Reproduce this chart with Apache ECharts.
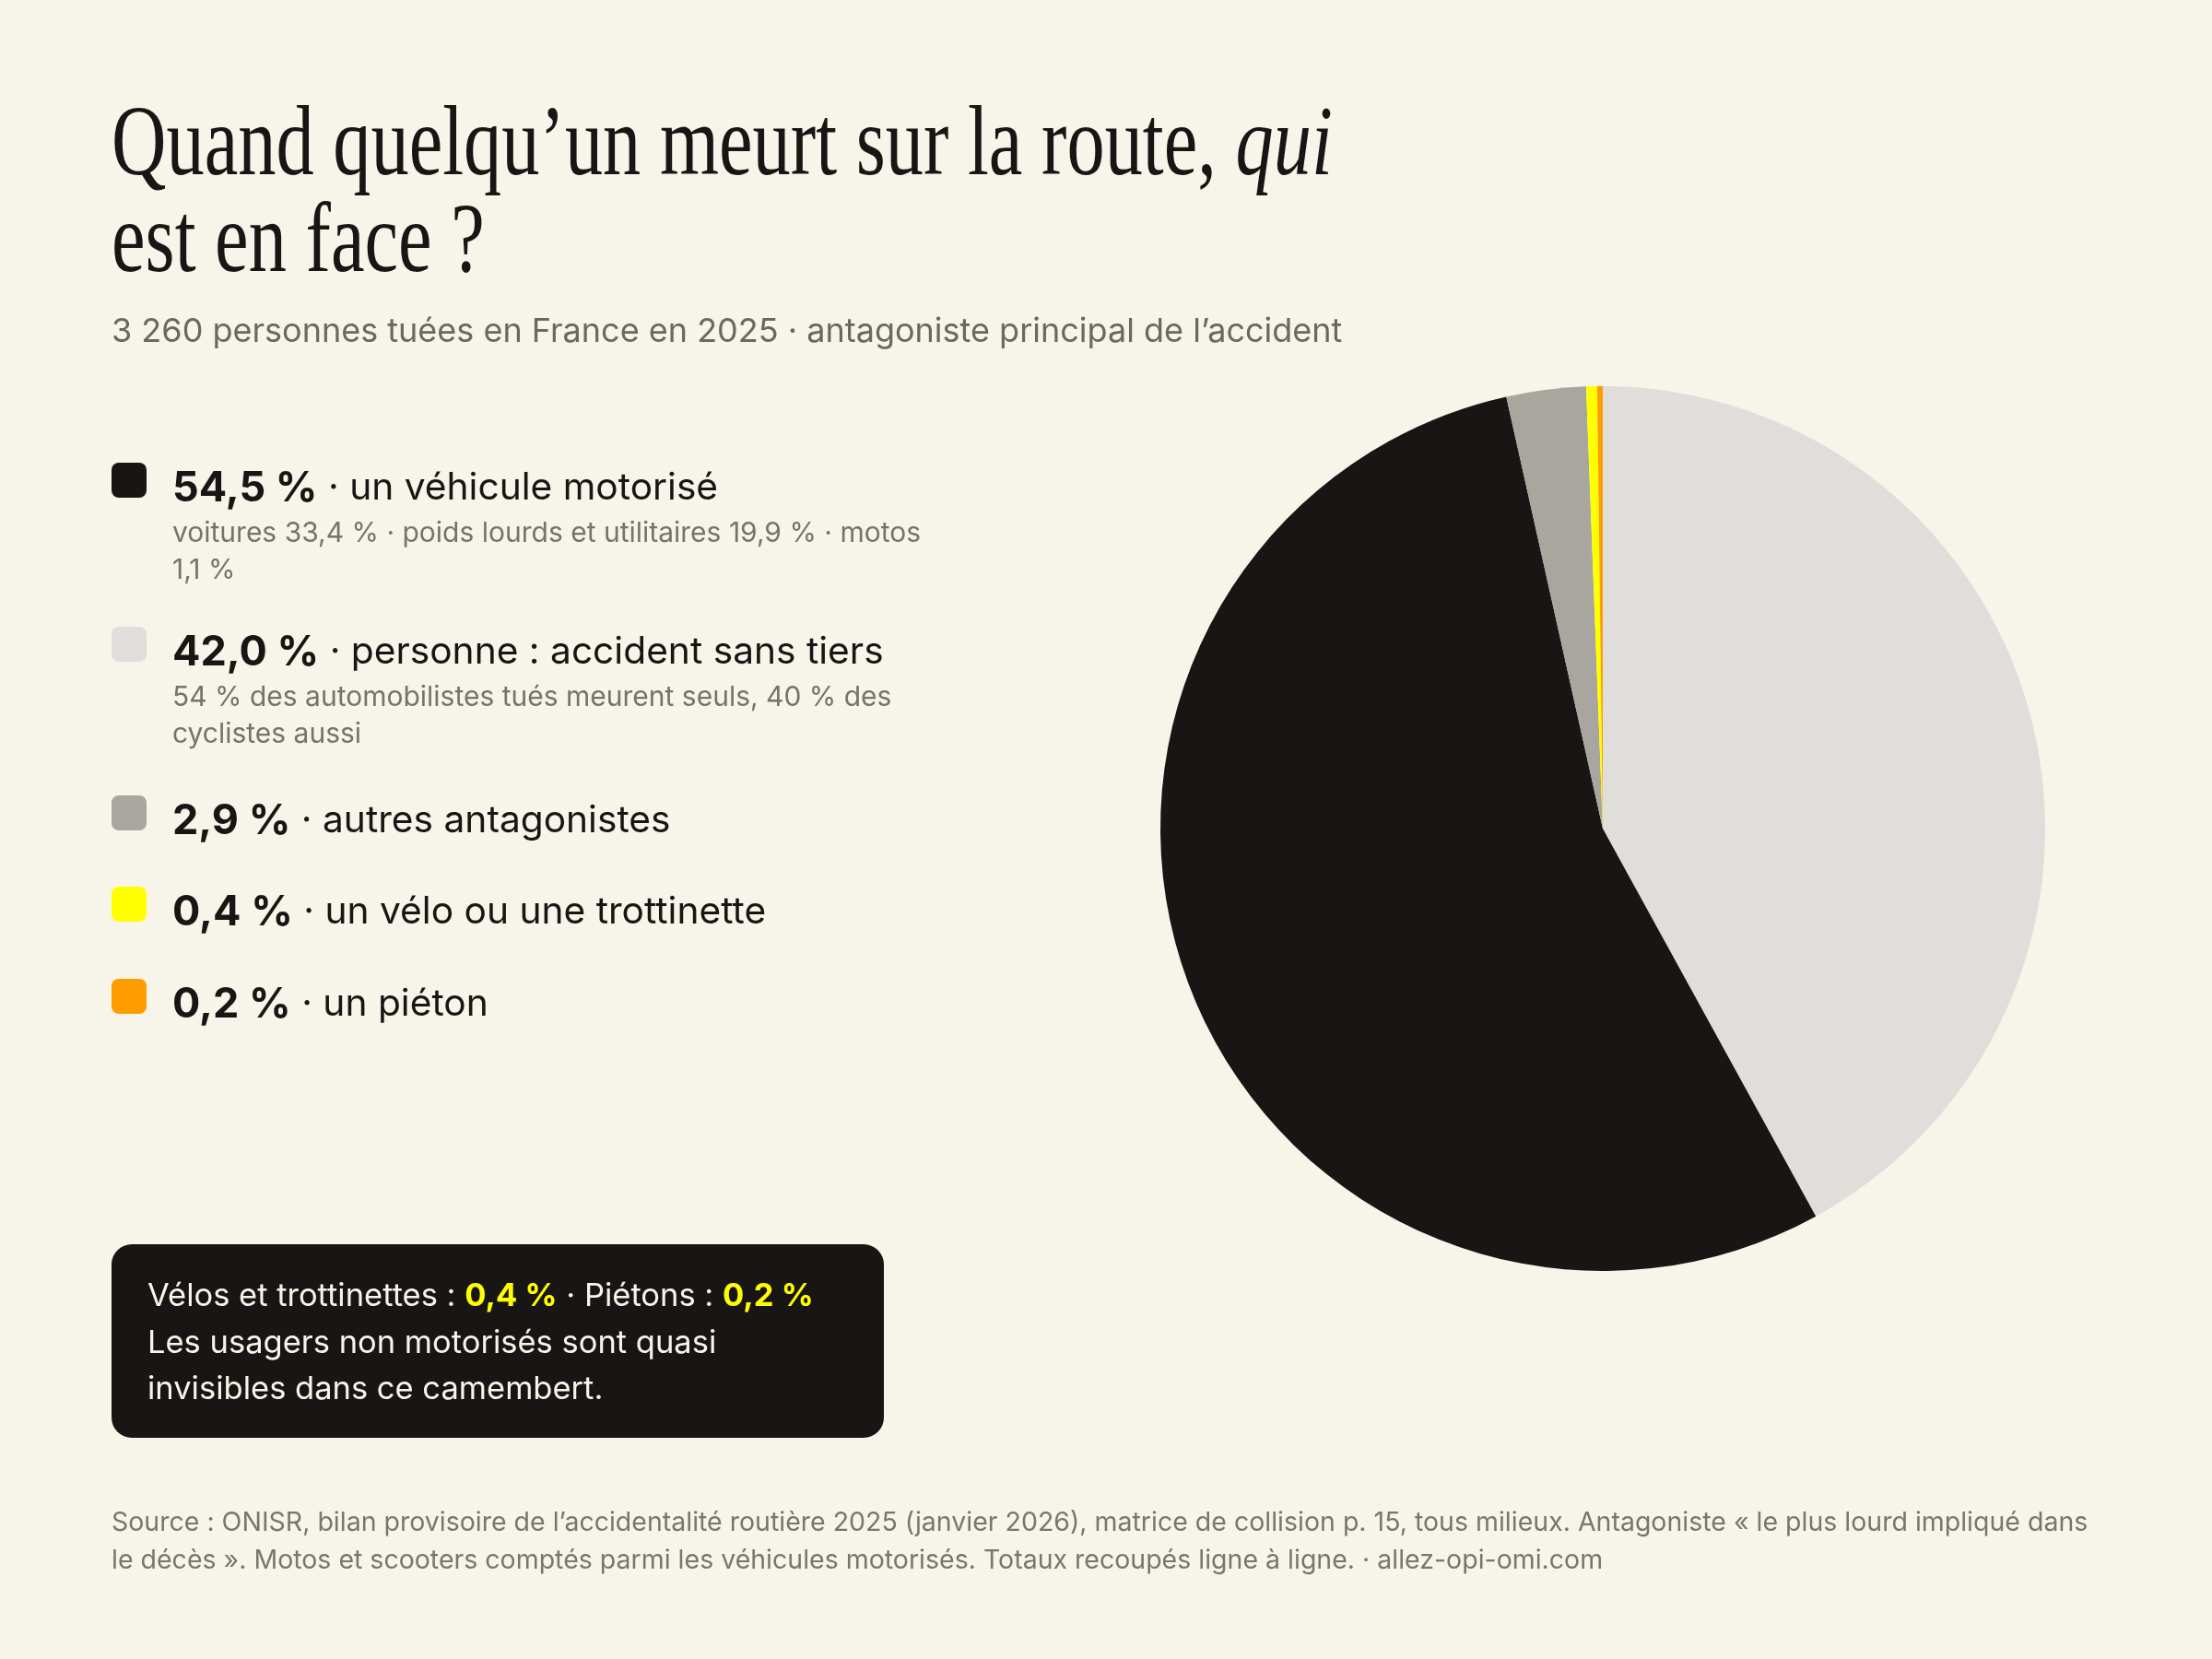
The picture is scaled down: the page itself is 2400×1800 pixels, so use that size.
<!DOCTYPE html>
<html>
<head>
<meta charset="utf-8">
<script src="https://cdn.jsdelivr.net/npm/echarts@6/dist/echarts.min.js"></script>
<style>
  html, body { margin: 0; padding: 0; background: #f7f4ea; }
  #chart { width: 2400px; height: 1800px; }
</style>
</head>
<body>
<div id="chart"></div>
<script>
// données
var categories = ['un véhicule motorisé', 'personne : accident sans tiers', 'autres antagonistes', 'un vélo ou une trottinette', 'un piéton'];
var values = [54.5, 42.0, 2.9, 0.4, 0.2];
var colors = ['#171614', '#dfdedb', '#a9a69f', '#ffff00', '#ff9c00'];
var details = [
  'voitures 33,4 % · poids lourds et utilitaires 19,9 % · motos\n1,1 %',
  '54 % des automobilistes tués meurent seuls, 40 % des\ncyclistes aussi',
  '', '', ''
];
// ordre de tracé dans le camembert (sens horaire depuis midi)
var pieOrder = [1, 0, 2, 3, 4];

var bg = '#f7f4ea';
var sans = 'Inter, "Noto Sans", sans-serif';

function fmt(v) {
  return v.toFixed(1).replace('.', ',') + ' %';
}

var chart = echarts.init(document.getElementById('chart'));

var graphics = [];

// titre
graphics.push({
  type: 'text', x: 121, y: 161, scaleX: 0.77,
  style: {
    text: 'Quand quelqu’un meurt sur la route, {i|qui}',
    font: '107px "Liberation Serif", serif', fill: '#171614', verticalAlign: 'middle',
    rich: { i: { font: 'italic 107px "Liberation Serif", serif', fill: '#171614' } }
  }
});
graphics.push({
  type: 'text', x: 121, y: 266, scaleX: 0.77,
  style: { text: 'est en face ?', font: '107px "Liberation Serif", serif', fill: '#171614', verticalAlign: 'middle' }
});
graphics.push({
  type: 'text', x: 121, y: 360,
  style: { text: '3 260 personnes tuées en France en 2025 · antagoniste principal de l’accident', font: '36px ' + sans, fill: '#6b6862', verticalAlign: 'middle' }
});

// légende
var rowBase = [542, 720, 903, 1002, 1102];
categories.forEach(function (c, i) {
  var b = rowBase[i];
  graphics.push({
    type: 'rect', shape: { x: 121, y: b - 40, width: 38, height: 38, r: 8 },
    style: { fill: colors[i] }
  });
  graphics.push({
    type: 'text', x: 187, y: b - 12,
    style: {
      text: '{b|' + fmt(values[i]) + '} · ' + c,
      font: '40.7px ' + sans, fill: '#171614', verticalAlign: 'middle',
      rich: { b: { font: 'bold 45px ' + sans, fill: '#171614' } }
    }
  });
  if (details[i]) {
    details[i].split('\n').forEach(function (line, k) {
      graphics.push({
        type: 'text', x: 187, y: b + 37 + k * 40,
        style: { text: line, font: '30px ' + sans, fill: '#77736b', verticalAlign: 'middle' }
      });
    });
  }
});

// encadré
graphics.push({
  type: 'rect', shape: { x: 121, y: 1350, width: 838, height: 210, r: 22 },
  style: { fill: '#181614' }
});
graphics.push({
  type: 'text', x: 160, y: 1407,
  style: {
    text: 'Vélos et trottinettes : {y|' + fmt(values[3]) + '} · Piétons : {y|' + fmt(values[4]) + '}',
    font: '34.5px ' + sans, fill: '#f7f4ea', verticalAlign: 'middle',
    rich: { y: { font: 'bold 34.5px ' + sans, fill: '#ffff00' } }
  }
});
['Les usagers non motorisés sont quasi', 'invisibles dans ce camembert.'].forEach(function (t, k) {
  graphics.push({
    type: 'text', x: 160, y: 1458 + k * 50,
    style: { text: t, font: '34.5px ' + sans, fill: '#f7f4ea', verticalAlign: 'middle' }
  });
});

// source
['Source : ONISR, bilan provisoire de l’accidentalité routière 2025 (janvier 2026), matrice de collision p. 15, tous milieux. Antagoniste « le plus lourd impliqué dans',
 'le décès ». Motos et scooters comptés parmi les véhicules motorisés. Totaux recoupés ligne à ligne. · allez-opi-omi.com'].forEach(function (t, k) {
  graphics.push({
    type: 'text', x: 121, y: 1652 + k * 41,
    style: { text: t, font: '28.5px ' + sans, fill: '#7a766e', verticalAlign: 'middle' }
  });
});

var option = {
  backgroundColor: bg,
  animation: false,
  graphic: graphics,
  series: [{
    type: 'pie',
    center: [1739, 899],
    radius: [0, 480],
    startAngle: 90,
    clockwise: true,
    label: { show: false },
    labelLine: { show: false },
    emphasis: { disabled: true },
    itemStyle: { borderWidth: 0 },
    data: pieOrder.map(function (i) {
      return { name: categories[i], value: values[i], itemStyle: { color: colors[i] } };
    })
  }]
};

chart.setOption(option);
</script>
</body>
</html>
